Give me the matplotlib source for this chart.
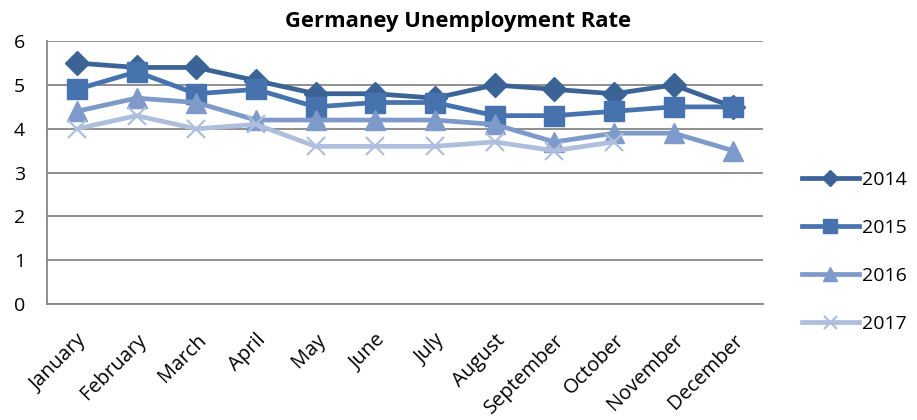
#line chart of monthly unemployment rate, four years

import matplotlib.pyplot as plt

plt.rcParams['font.family'] = ['Open Sans', 'DejaVu Sans']

months = ["January", "February", "March", "April", "May", "June",
          "July", "August", "September", "October", "November", "December"]

rate_2014 = [5.5, 5.4, 5.4, 5.1, 4.8, 4.8, 4.7, 5.0, 4.9, 4.8, 5.0, 4.5]
rate_2015 = [4.9, 5.3, 4.8, 4.9, 4.5, 4.6, 4.6, 4.3, 4.3, 4.4, 4.5, 4.5]
rate_2016 = [4.4, 4.7, 4.6, 4.2, 4.2, 4.2, 4.2, 4.1, 3.7, 3.9, 3.9, 3.5]
rate_2017 = [4.0, 4.3, 4.0, 4.1, 3.6, 3.6, 3.6, 3.7, 3.5, 3.7]

years = ["2014", "2015", "2016", "2017"]

#create figure
fig = plt.figure(figsize=(9.17, 4.2), dpi=100)
ax = fig.add_axes([0.0513, 0.276, 0.781, 0.626])

x = list(range(len(months)))

ax.plot(x, rate_2014, color="#3b6396", lw=3.4, marker="D", ms=12,
        label=years[0], zorder=3)
ax.plot(x, rate_2015, color="#4673ad", lw=3.4, marker="s", ms=14,
        label=years[1], zorder=3)
ax.plot(x, rate_2016, color="#7d9aca", lw=3.4, marker="^", ms=14,
        label=years[2], zorder=3)
ax.plot(x[:len(rate_2017)], rate_2017, color="#aebfdd", lw=3.4, marker="x",
        ms=13, mew=1.6, label=years[3], zorder=3)

#axes
ax.set_xlim(-0.5, 11.5)
ax.set_ylim(0, 6)
ax.set_yticks(range(0, 7))
ax.yaxis.grid(True, color="#878787", lw=1.3)
ax.set_axisbelow(True)
for s in ["top", "right"]:
    ax.spines[s].set_visible(False)
ax.spines["left"].set_color("#878787")
ax.spines["bottom"].set_color("#878787")
ax.spines["left"].set_linewidth(1.3)
ax.spines["bottom"].set_linewidth(1.3)
ax.tick_params(axis="both", length=0, labelsize=14)
ax.tick_params(axis="y", pad=16)
ax.tick_params(axis="x", pad=19)

ax.set_xticks(x)
ax.set_xticklabels(months, rotation=45, ha="right", rotation_mode="anchor",
                   fontsize=14.5)

#title centred on the whole figure
fig.suptitle("Germaney Unemployment Rate", x=0.5, y=0.948, va="center",
             fontsize=15.8, fontweight="bold")

#legend on the right
ax.legend(loc="center left", bbox_to_anchor=(1.03, 0.198), frameon=False,
          fontsize=14, handlelength=2.9, labelspacing=1.55, handletextpad=0.2,
          markerscale=0.72)

fig.savefig("out.png", dpi=100)
